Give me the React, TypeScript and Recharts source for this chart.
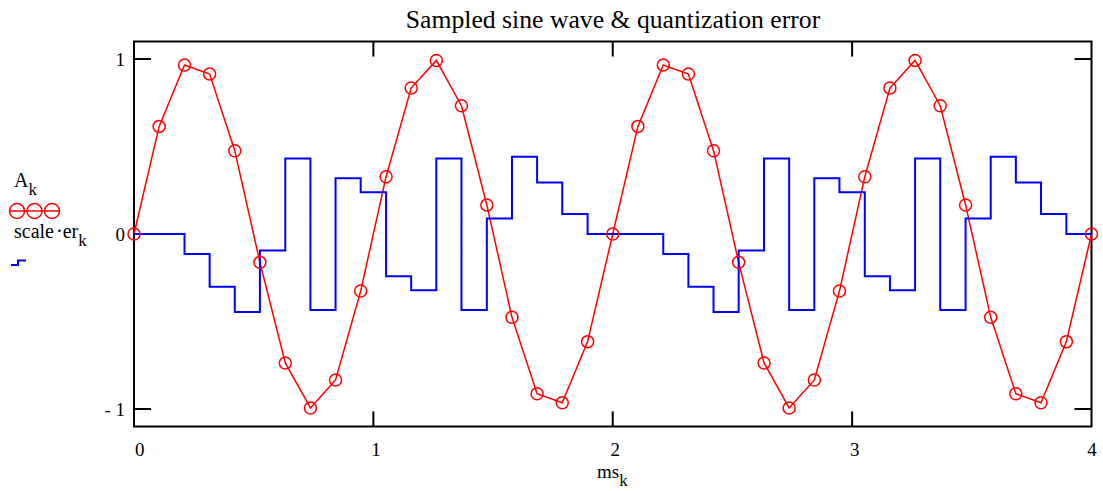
import React from 'react'
import {
    ComposedChart,
    Line,
    XAxis,
    YAxis,
    ReferenceArea,
    ReferenceLine
} from 'recharts'

// sample times ms_k (k = 0..38)
const msK = [
    0, 0.105, 0.211, 0.316, 0.421, 0.526, 0.632, 0.737, 0.842, 0.947,
    1.053, 1.158, 1.263, 1.368, 1.474, 1.579, 1.684, 1.789, 1.895, 2,
    2.105, 2.211, 2.316, 2.421, 2.526, 2.632, 2.737, 2.842, 2.947, 3.053,
    3.158, 3.263, 3.368, 3.474, 3.579, 3.684, 3.789, 3.895, 4
]

// sampled sine A_k
const aK = [
    0, 0.615, 0.966, 0.914, 0.476, -0.162, -0.737, -0.994, -0.834, -0.326,
    0.327, 0.834, 0.992, 0.733, 0.166, -0.476, -0.913, -0.964, -0.615, 0,
    0.615, 0.966, 0.914, 0.476, -0.162, -0.737, -0.994, -0.834, -0.326, 0.327,
    0.834, 0.992, 0.733, 0.166, -0.476, -0.913, -0.964, -0.615, 0
]

// scale * er_k (quantization error)
const scaledErr = [
    0, 0, -0.114, -0.301, -0.446, -0.094, 0.432, -0.434, 0.318, 0.238,
    -0.242, -0.322, 0.432, -0.434, 0.089, 0.442, 0.295, 0.114, 0, 0,
    0, -0.114, -0.301, -0.446, -0.094, 0.432, -0.434, 0.318, 0.238, -0.242,
    -0.322, 0.432, -0.434, 0.089, 0.442, 0.295, 0.114, 0, 0
]

const xTicks = [0, 1, 2, 3, 4]
const yTicks = [-1, 0, 1]
const yTickLabels = ['- 1', '0', '1']

const data = msK.map((ms, k) => ({ ms, a: aK[k], err: scaledErr[k] }))

const FONT = '"Liberation Serif", "DejaVu Serif", serif'

const XTick = (props: any) => {
    const { x, index } = props
    const v = props.payload.value
    let anchor: 'start' | 'middle' | 'end' = 'middle'
    let dx = 2.5
    if (index === 0) { anchor = 'start'; dx = 1 }
    if (index === xTicks.length - 1) { dx = 0.5 }
    return (
        <text x={x + dx} y={456} textAnchor={anchor} fontFamily={FONT} fontSize={19} fill="#000">
            {v}
        </text>
    )
}

const YTick = (props: any) => {
    const { y } = props
    const i = yTicks.indexOf(props.payload.value)
    return (
        <text x={125} y={y + 6.5} textAnchor="end" fontFamily={FONT} fontSize={19} fill="#000">
            {yTickLabels[i]}
        </text>
    )
}

export default function App() {
    const tx = 0.071
    const ty = 0.086
    return (
        <div style={{ position: 'absolute', left: 0, top: 0, width: 1103, height: 491, background: '#fff' }}>
            <ComposedChart
                width={1103}
                height={491}
                data={data}
                margin={{ top: 41.5, right: 11.5, bottom: 24.5, left: 84 }}
            >
                <XAxis
                    dataKey="ms"
                    type="number"
                    domain={[0, 4]}
                    ticks={xTicks}
                    interval={0}
                    height={40}
                    axisLine={false}
                    tickLine={false}
                    tick={<XTick />}
                />
                <YAxis
                    type="number"
                    domain={[-1.1, 1.1]}
                    ticks={yTicks}
                    interval={0}
                    width={50}
                    axisLine={false}
                    tickLine={false}
                    tick={<YTick />}
                />
                {xTicks.slice(1, -1).map((t) => (
                    <ReferenceLine key={'xb' + t} segment={[{ x: t, y: -1.1 }, { x: t, y: -1.1 + ty }]} stroke="#000" strokeWidth={2} />
                ))}
                {xTicks.slice(1, -1).map((t) => (
                    <ReferenceLine key={'xt' + t} segment={[{ x: t, y: 1.1 }, { x: t, y: 1.1 - ty }]} stroke="#000" strokeWidth={2} />
                ))}
                {yTicks.map((t) => (
                    <ReferenceLine key={'yl' + t} segment={[{ x: 0, y: t }, { x: tx, y: t }]} stroke="#000" strokeWidth={2} />
                ))}
                {yTicks.map((t) => (
                    <ReferenceLine key={'yr' + t} segment={[{ x: 4, y: t }, { x: 4 - tx, y: t }]} stroke="#000" strokeWidth={2} />
                ))}
                <ReferenceArea x1={0} x2={4} y1={-1.1} y2={1.1} fill="none" fillOpacity={0} stroke="#000" strokeWidth={2} />
                <Line
                    dataKey="a"
                    type="linear"
                    stroke="#ff0000"
                    strokeWidth={1.5}
                    dot={{ r: 6, stroke: '#ff0000', strokeWidth: 1.5, fill: 'none' }}
                    isAnimationActive={false}
                />
                <Line
                    dataKey="err"
                    type="stepAfter"
                    stroke="#0000ff"
                    strokeWidth={2}
                    dot={false}
                    isAnimationActive={false}
                />
            </ComposedChart>
            <svg width={1103} height={491} style={{ position: 'absolute', left: 0, top: 0, pointerEvents: 'none' }}>
                <text x={613} y={28} textAnchor="middle" fontFamily={FONT} fontSize={25.7} fill="#000">
                    Sampled sine wave &amp; quantization error
                </text>
                {/* legend */}
                <text x={14} y={187} fontFamily={FONT} fontSize={20} fill="#000">
                    A<tspan fontSize={17} dy={8}>k</tspan>
                </text>
                <line x1={9} y1={211} x2={60} y2={211} stroke="#ff0000" strokeWidth={1.5} />
                {[17, 34.5, 52].map((cx) => (
                    <circle key={cx} cx={cx} cy={211} r={7.5} fill="none" stroke="#ff0000" strokeWidth={1.5} />
                ))}
                <text x={14} y={238} fontFamily={FONT} fontSize={20} fill="#000">
                    scale<tspan dx={2}>·</tspan>er<tspan fontSize={17} dy={8}>k</tspan>
                </text>
                <path d="M11 265 H18 V260.5 H26" fill="none" stroke="#0000ff" strokeWidth={2} />
                {/* x label */}
                <text x={597} y={478} fontFamily={FONT} fontSize={19} fill="#000">
                    ms<tspan fontSize={17} dy={8}>k</tspan>
                </text>
            </svg>
        </div>
    )
}
